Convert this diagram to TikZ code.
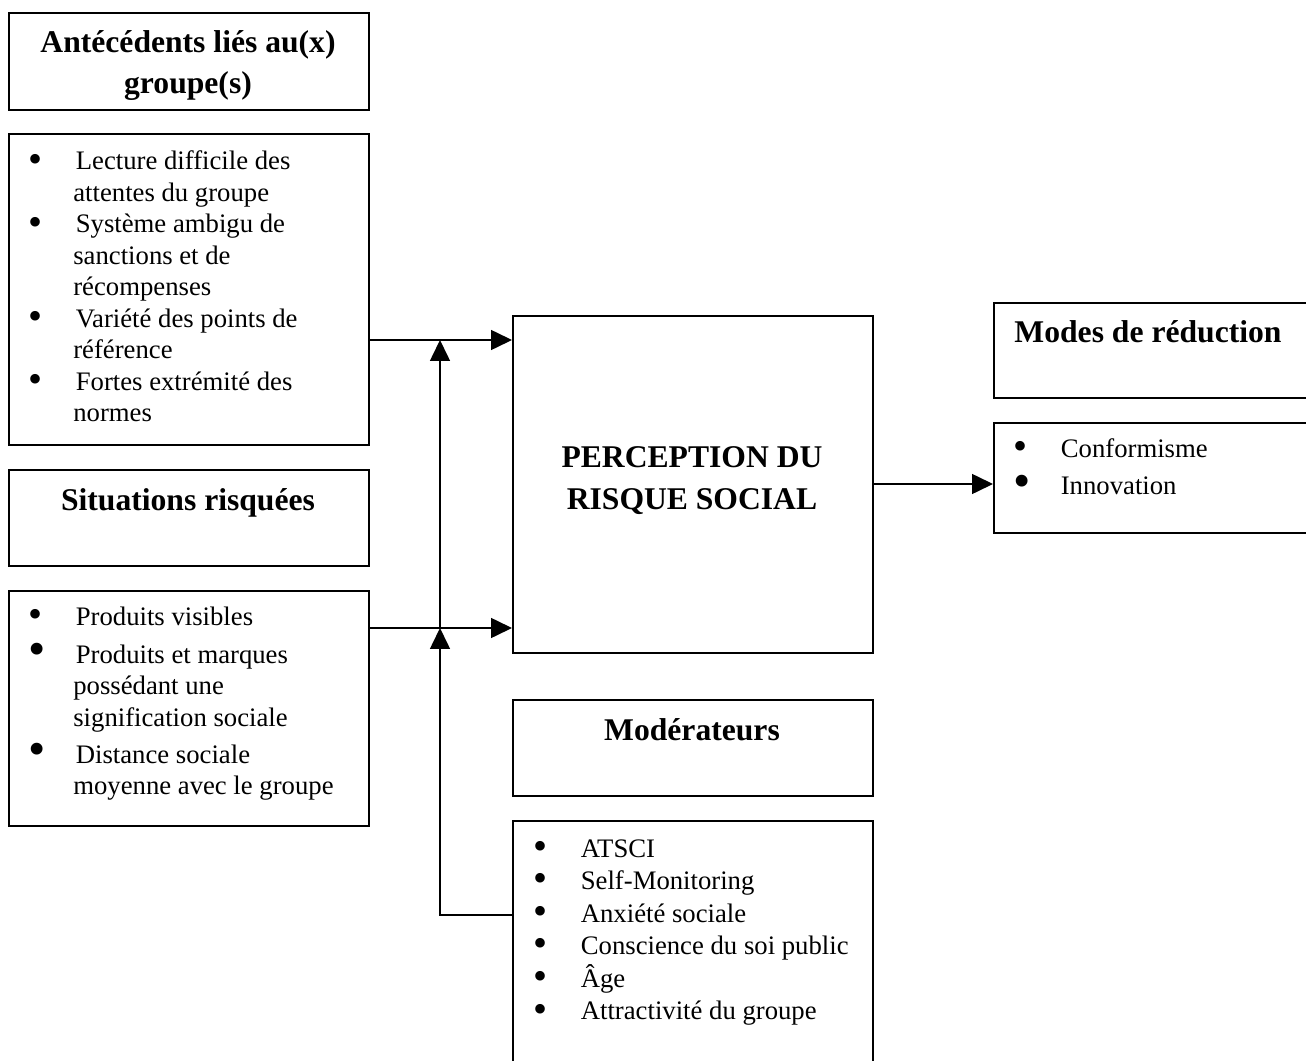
\documentclass[tikz,border=0pt]{standalone}
\usepackage{fontspec}
\usepackage{graphicx}
\setmainfont{Liberation Serif}
\usetikzlibrary{arrows.meta,positioning}

\newcommand{\puce}[1][1.5]{\makebox[0.95cm][l]{\smash{\raisebox{-0.2ex}{\scalebox{#1}{\textbullet}}}}}
\newcommand{\suite}{\hspace*{0.9cm}}

\begin{document}
\begin{tikzpicture}[x=0.02cm, y=-0.02cm,
  cadre/.style={draw, line width=1.1pt, inner sep=0pt, anchor=north west},
  titre/.style={font=\fontsize{18}{21}\selectfont\bfseries, inner sep=0pt, anchor=base},
  liste/.style={font=\fontsize{15.2}{17.9}\selectfont, inner sep=0pt, anchor=base west},
  fleche/.style={line width=0.9pt, -{Triangle[length=0.42cm, width=0.4cm]}}]
  \useasboundingbox (0,0) rectangle (1306,1061);
  \clip (0,0) rectangle (1306,1061);
  %antecedents
  \node[cadre, minimum width=7.2cm, minimum height=1.94cm] (antcadre) at (8,12) {};
  \node[titre] (anttitre) at (188,53) {\begin{tabular}[t]{@{}c@{}}Antécédents liés au(x)\\[2.2pt] groupe(s)\end{tabular}};
  \node[cadre, minimum width=7.2cm, minimum height=6.22cm] (antliste) at (8,133) {};
  \node[liste] (antitems) at (28,170) {\begin{tabular}[t]{@{}l@{}}
    \puce Lecture difficile des\\ \suite attentes du groupe\\
    \puce Système ambigu de\\ \suite sanctions et de\\ \suite récompenses\\
    \puce Variété des points de\\ \suite référence\\
    \puce Fortes extrémité des\\ \suite normes\end{tabular}};
  %situations
  \node[cadre, minimum width=7.2cm, minimum height=1.92cm] (sitcadre) at (8,469) {};
  \node[titre] (sittitre) at (188,510) {Situations risquées};
  \node[cadre, minimum width=7.2cm, minimum height=4.7cm] (sitliste) at (8,590) {};
  \node[liste] (situitems) at (28,625) {\begin{tabular}[t]{@{}l@{}}
    \puce Produits visibles\\[3.8pt]
    \puce[1.85]Produits et marques\\ \suite possédant une\\ \suite signification sociale\\[3.4pt]
    \puce[1.85]Distance sociale\\ \suite moyenne avec le groupe\end{tabular}};
  %perception
  \node[cadre, minimum width=7.2cm, minimum height=6.74cm] (risque) at (512,315) {};
  \node[titre] (risquetitre) at (692,467) {\begin{tabular}[t]{@{}c@{}}PERCEPTION DU\\[3pt] RISQUE SOCIAL\end{tabular}};
  %moderateurs
  \node[cadre, minimum width=7.2cm, minimum height=1.92cm] (modercadre) at (512,699) {};
  \node[titre] (modertitre) at (692,740) {Modérateurs};
  \node[cadre, minimum width=7.2cm, minimum height=5.4cm] (moderliste) at (512,820) {};
  \node[liste, font=\fontsize{15.2}{18.5}\selectfont] (moderitems) at (533,857) {\begin{tabular}[t]{@{}l@{}}
    \puce ATSCI\\ \puce Self-Monitoring\\ \puce Anxiété sociale\\
    \puce Conscience du soi public\\ \puce Âge\\ \puce Attractivité du groupe\end{tabular}};
  %modes de reduction
  \node[cadre, minimum width=6.4cm, minimum height=1.9cm] (modescadre) at (993,302) {};
  \node[titre] (modestitre) at (1148,342) {Modes de réduction};
  \node[cadre, minimum width=6.4cm, minimum height=2.2cm] (modesliste) at (993,422) {};
  \node[liste] (modesitems) at (1013,457) {\begin{tabular}[t]{@{}l@{}}
    \puce Conformisme\\[3.6pt] \puce[1.85]Innovation\end{tabular}};
  %connectors
  \coordinate (j1) at (440,340);
  \coordinate (j2) at (440,628);
  \coordinate (m) at (440,915);
  \coordinate (s) at (930,484);
  \draw[fleche] (antliste.east |- j1) -- (risque.west |- j1);
  \draw[fleche] (sitliste.east |- j2) -- (risque.west |- j2);
  \draw[fleche] (moderliste.west |- m) -- (m) -- (j2);
  \draw[fleche] (j2) -- (j1);
  \draw[fleche] (risque.east |- s) -- (modesliste.west |- s);
\end{tikzpicture}
\end{document}
